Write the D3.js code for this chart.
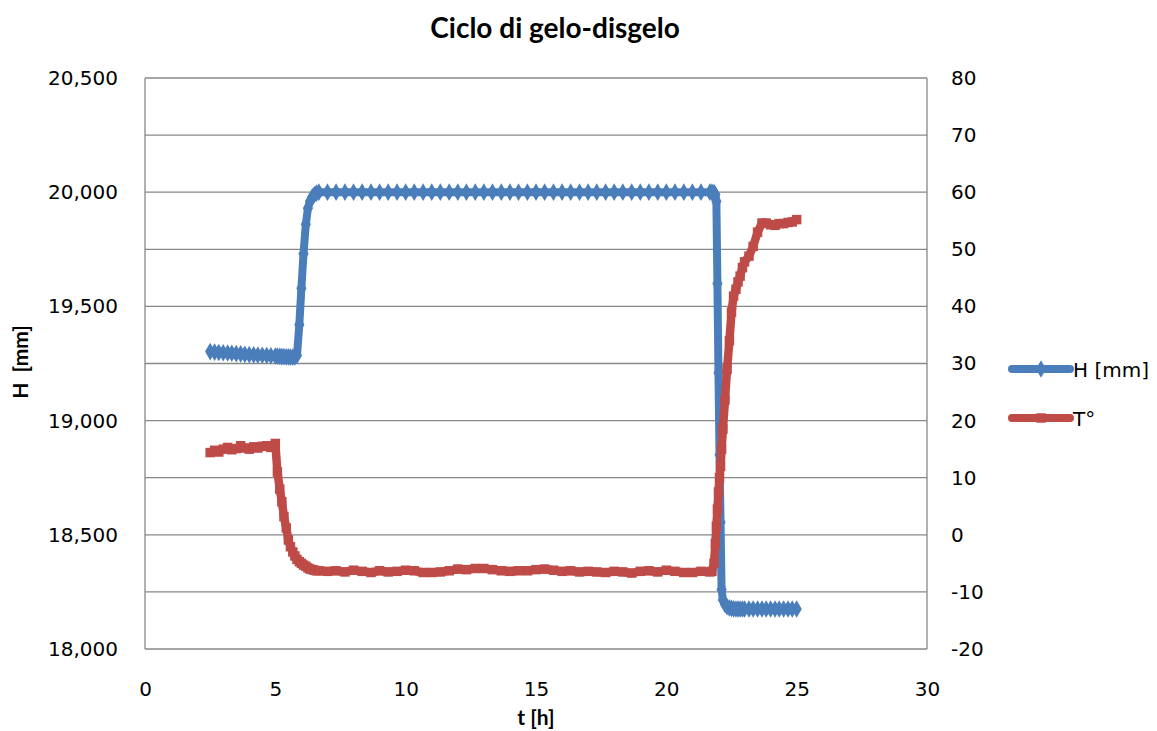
<!DOCTYPE html>
<html>
<head>
<meta charset="utf-8">
<script src="https://cdn.jsdelivr.net/npm/d3@7"></script>
<style>
  html, body { margin: 0; padding: 0; background: #fff; }
  svg { display: block; }
</style>
</head>
<body>
<svg id="chart" width="1157" height="731"></svg>
<script>
// Freeze–thaw cycle: sample time [h], height H [mm], temperature T [°C]
const time = [
  2.50, 2.67, 2.83, 3.00, 3.17, 3.33, 3.50, 3.67, 3.83, 4.00, 4.17, 4.33, 4.50, 4.67, 4.83, 5.00,
  5.08, 5.17, 5.25, 5.33, 5.42, 5.50, 5.58, 5.67, 5.75, 5.83,
  5.92, 6.00, 6.08, 6.17, 6.25, 6.33, 6.42, 6.50, 6.58, 6.67,
  7.00, 7.33, 7.67, 8.00, 8.33, 8.67, 9.00, 9.33, 9.67, 10.00, 10.33, 10.67, 11.00, 11.33, 11.67,
  12.00, 12.33, 12.67, 13.00, 13.33, 13.67, 14.00, 14.33, 14.67, 15.00, 15.33, 15.67, 16.00, 16.33,
  16.67, 17.00, 17.33, 17.67, 18.00, 18.33, 18.67, 19.00, 19.33, 19.67, 20.00, 20.33, 20.67, 21.00,
  21.33, 21.67,
  21.75, 21.83, 21.88, 21.92, 21.96, 22.00, 22.04, 22.08, 22.12, 22.17, 22.25, 22.33, 22.42, 22.50,
  22.58, 22.67, 22.75, 22.83, 22.92, 23.00, 23.17, 23.33, 23.50, 23.67, 23.83, 24.00, 24.17, 24.33,
  24.50, 24.67, 24.83, 25.00
];

const heightMm = [
  19302, 19300, 19298, 19297, 19296, 19295, 19293, 19292, 19290, 19289, 19288, 19287, 19286, 19285, 19284, 19283,
  19282, 19281, 19280, 19280, 19279, 19279, 19278, 19278, 19279, 19285,
  19420, 19580, 19730, 19860, 19930, 19960, 19980, 19990, 19996, 20000,
  20000, 20000, 20000, 20000, 20000, 20000, 20000, 20000, 20000, 20000, 20000, 20000, 20000, 20000, 20000,
  20000, 20000, 20000, 20000, 20000, 20000, 20000, 20000, 20000, 20000, 20000, 20000, 20000, 20000,
  20000, 20000, 20000, 20000, 20000, 20000, 20000, 20000, 20000, 20000, 20000, 20000, 20000, 20000,
  20000, 20000,
  20000, 19998, 19990, 19960, 19600, 19210, 18850, 18555, 18260, 18215, 18195, 18185, 18180, 18178,
  18176, 18175, 18175, 18175, 18175, 18175, 18175, 18175, 18175, 18175, 18175, 18175, 18175, 18175,
  18175, 18175, 18175, 18175
];

const tempC = [
  14.4, 14.8, 14.5, 15.0, 15.3, 14.9, 15.1, 15.6, 15.2, 15.0, 15.4, 15.2, 15.5, 15.6, 15.3, 16.0,
  11.0, 8.0, 5.8, 3.2, 1.2, -0.9, -2.1, -3.0, -3.7, -4.3,
  -4.7, -5.0, -5.3, -5.5, -5.8, -6.0, -6.1, -6.2, -6.3, -6.3,
  -6.4, -6.3, -6.5, -6.2, -6.4, -6.6, -6.3, -6.5, -6.4, -6.2, -6.3, -6.6, -6.6, -6.5, -6.3,
  -6.0, -6.1, -5.9, -5.9, -6.1, -6.3, -6.4, -6.3, -6.3, -6.1, -6.0, -6.2, -6.4, -6.3,
  -6.5, -6.4, -6.5, -6.6, -6.4, -6.5, -6.7, -6.4, -6.3, -6.5, -6.2, -6.4, -6.6, -6.6,
  -6.4, -6.5,
  -6.4, -5.0, -1.5, 1.5, 4.5, 7.5, 10.0, 12.0, 15.0, 18.5, 23.6, 29.0, 34.0, 39.0,
  41.8, 43.0, 44.3, 45.3, 46.8, 47.8, 48.8, 50.5, 53.0, 54.6, 54.6, 54.3, 54.2, 54.5,
  54.5, 54.7, 54.8, 55.2
];

const xTicks = [0, 5, 10, 15, 20, 25, 30];
const hTicks = [18000, 18500, 19000, 19500, 20000, 20500];
const hGrid = [18000, 18250, 18500, 18750, 19000, 19250, 19500, 19750, 20000, 20250, 20500];
const tTicks = [-20, -10, 0, 10, 20, 30, 40, 50, 60, 70, 80];

const seriesNames = ["H [mm]", "T°"];
const titleText = "Ciclo di gelo-disgelo";
const xTitle = "t [h]";
const yTitle = "H  [mm]";

const plot = { left: 145, right: 927, top: 78, bottom: 649 };
const blue = "#4A7EBB";
const red = "#BE4B48";
const gridColor = "#888888";
const tickFont = "'DejaVu Sans', Verdana, sans-serif";
const titleFont = "Lato, 'Open Sans', sans-serif";

const svg = d3.select("#chart");

const x = d3.scaleLinear().domain([0, 30]).range([plot.left, plot.right]);
const yH = d3.scaleLinear().domain([18000, 20500]).range([plot.bottom, plot.top]);
const yT = d3.scaleLinear().domain([-20, 80]).range([plot.bottom, plot.top]);

// horizontal gridlines
svg.append("g").selectAll("line").data(hGrid).join("line")
  .attr("x1", plot.left).attr("x2", plot.right)
  .attr("y1", d => yH(d)).attr("y2", d => yH(d))
  .attr("stroke", gridColor).attr("stroke-width", 1.3);

// axis frame lines
svg.append("line").attr("x1", plot.left).attr("x2", plot.left)
  .attr("y1", plot.top).attr("y2", plot.bottom)
  .attr("stroke", gridColor).attr("stroke-width", 1.3);
svg.append("line").attr("x1", plot.right).attr("x2", plot.right)
  .attr("y1", plot.top).attr("y2", plot.bottom)
  .attr("stroke", gridColor).attr("stroke-width", 1.3);

// left axis (H)
const axL = svg.append("g").attr("transform", `translate(${plot.left},0)`)
  .call(d3.axisLeft(yH).tickValues(hTicks).tickFormat(d3.format(",")).tickSize(0).tickPadding(27));
// right axis (T)
const axR = svg.append("g").attr("transform", `translate(${plot.right},0)`)
  .call(d3.axisRight(yT).tickValues(tTicks).tickFormat(d => String(d)).tickSize(0).tickPadding(24));
// bottom axis (t)
const axB = svg.append("g").attr("transform", `translate(0,${plot.bottom})`)
  .call(d3.axisBottom(x).tickValues(xTicks).tickFormat(d => String(d)).tickSize(0).tickPadding(33));

[axL, axR, axB].forEach(g => {
  g.select(".domain").remove();
  g.selectAll("text").attr("font-family", tickFont).attr("font-size", 20).attr("fill", "#000");
});

// series
const pts = time.map((t, i) => ({ t, h: heightMm[i], temp: tempC[i] }));

const lineH = d3.line().x(d => x(d.t)).y(d => yH(d.h));
const lineT = d3.line().x(d => x(d.t)).y(d => yT(d.temp));

const gH = svg.append("g");
gH.append("path").datum(pts).attr("d", lineH)
  .attr("fill", "none").attr("stroke", blue).attr("stroke-width", 8)
  .attr("stroke-linejoin", "round").attr("stroke-linecap", "round");
gH.selectAll("path.m").data(pts).join("path").attr("class", "m")
  .attr("d", d3.symbol(d3.symbolDiamond, 90)())
  .attr("transform", d => `translate(${x(d.t)},${yH(d.h)})`)
  .attr("fill", blue);

const gT = svg.append("g");
gT.append("path").datum(pts).attr("d", lineT)
  .attr("fill", "none").attr("stroke", red).attr("stroke-width", 8.5)
  .attr("stroke-linejoin", "round").attr("stroke-linecap", "round");
gT.selectAll("path.m").data(pts).join("path").attr("class", "m")
  .attr("d", d3.symbol(d3.symbolSquare, 90)())
  .attr("transform", d => `translate(${x(d.t)},${yT(d.temp)})`)
  .attr("fill", red);

// titles
svg.append("text").attr("x", 555).attr("y", 38).attr("text-anchor", "middle")
  .attr("font-family", titleFont).attr("font-weight", "bold").attr("font-size", 28)
  .text(titleText);
svg.append("text").attr("x", 536).attr("y", 725).attr("text-anchor", "middle")
  .attr("font-family", titleFont).attr("font-weight", "bold").attr("font-size", 21)
  .text(xTitle);
svg.append("text").attr("transform", "translate(28,362) rotate(-90)").attr("text-anchor", "middle")
  .attr("font-family", titleFont).attr("font-weight", "bold").attr("font-size", 21)
  .attr("xml:space", "preserve").style("white-space", "pre")
  .text(yTitle);

// legend
const legend = [
  { name: seriesNames[0], color: blue, sym: d3.symbolDiamond, size: 90, y: 369 },
  { name: seriesNames[1], color: red, sym: d3.symbolSquare, size: 90, y: 418 }
];
const lg = svg.append("g").selectAll("g").data(legend).join("g");
lg.append("line").attr("x1", 1012).attr("x2", 1070)
  .attr("y1", d => d.y).attr("y2", d => d.y)
  .attr("stroke", d => d.color).attr("stroke-width", 8).attr("stroke-linecap", "round");
lg.append("path").attr("d", d => d3.symbol(d.sym, d.size)())
  .attr("transform", d => `translate(1041,${d.y})`).attr("fill", d => d.color);
lg.append("text").attr("x", 1073).attr("y", d => d.y + 8)
  .attr("font-family", tickFont).attr("font-size", 20).attr("fill", "#000")
  .text(d => d.name);
</script>
</body>
</html>
